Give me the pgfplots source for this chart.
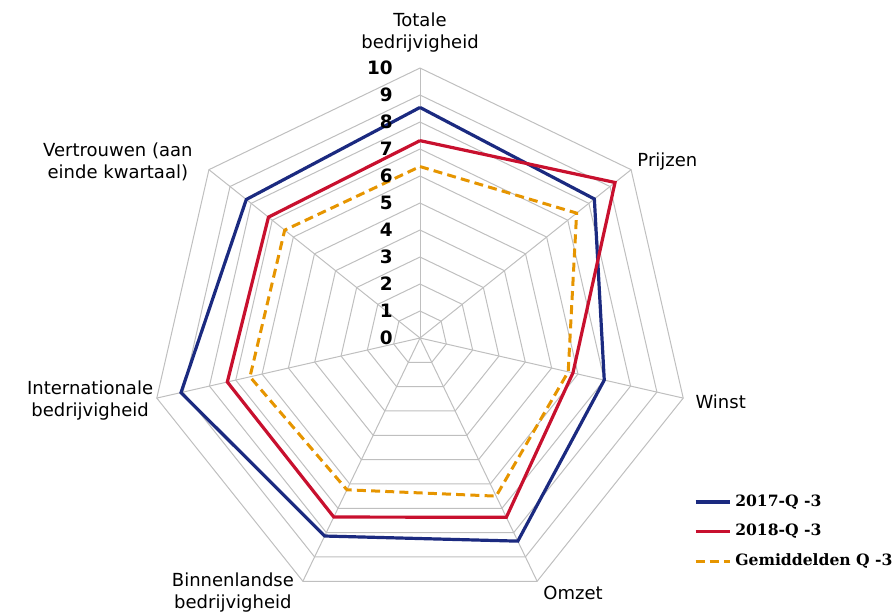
\documentclass[border=0pt]{standalone}
\usepackage{pgfplots}
\pgfplotsset{compat=1.18}
\usepgfplotslibrary{polar}
\usepackage{fontspec}
\setmainfont{DejaVu Sans}
\newfontfamily\legfont{DejaVu Serif}
\definecolor{gridc}{HTML}{BFBFBF}
\definecolor{cblue}{HTML}{1B2A80}
\definecolor{cred}{HTML}{C8102E}
\definecolor{corange}{HTML}{E69500}
\begin{document}
\begin{tikzpicture}
\begin{axis}[
  scale only axis, width=448pt, height=306pt,
  xmin=-15.556, xmax=17.63, ymin=-10.148, ymax=12.519,
  hide axis, clip=false,
  legend style={at={(0.774,0.199)}, anchor=north west, draw=none, fill=none,
    font=\legfont\fontsize{7.8}{9}\selectfont\bfseries, row sep=3.5pt,
    legend cell align=left, inner sep=0pt},
  legend image post style={line width=1.6pt},
]
% grid rings
\pgfplotsinvokeforeach{1,...,10}{
  \addplot[gridc, line width=0.5pt, forget plot, data cs=polar] coordinates
  {(90,#1) (38.5714,#1) (-12.8571,#1) (-64.2857,#1) (-115.7143,#1) (-167.1429,#1) (141.4286,#1) (90,#1)};
}
% spokes
\pgfplotsinvokeforeach{90,38.5714,-12.8571,-64.2857,-115.7143,-167.1429,141.4286}{
  \addplot[gridc, line width=0.5pt, forget plot, data cs=polar] coordinates {(#1,0) (#1,10)};
}
% series: angle, value
\addplot[cblue, line width=1.6pt, data cs=polar] coordinates
  {(90,8.54) (38.5714,8.26) (-12.8571,7.0) (-64.2857,8.35) (-115.7143,8.14) (-167.1429,9.08) (141.4286,8.23) (90,8.54)};
\addlegendentry{2017-Q -3}
\addplot[cred, line width=1.6pt, data cs=polar] coordinates
  {(90,7.31) (38.5714,9.24) (-12.8571,5.81) (-64.2857,7.37) (-115.7143,7.36) (-167.1429,7.32) (141.4286,7.18) (90,7.31)};
\addlegendentry{2018-Q -3}
\addplot[corange, line width=1.5pt, dash pattern=on 4.5pt off 2.6pt, data cs=polar] coordinates
  {(90,6.35) (38.5714,7.42) (-12.8571,5.63) (-64.2857,6.5) (-115.7143,6.24) (-167.1429,6.46) (141.4286,6.41) (90,6.35)};
\addlegendentry{Gemiddelden Q -3}
% scale labels
\pgfplotsinvokeforeach{0,...,10}{
  \node[anchor=east, inner sep=0pt, font=\fontsize{9.2}{10}\selectfont\bfseries] at (axis cs:-1.0,#1) {#1};
}
% category labels
\begin{scope}[font=\fontsize{9}{11}\selectfont, align=center, inner sep=0pt]
\node at (axis cs:0,11.3) {Totale\\bedrijvigheid};
\node[anchor=west] at (axis cs:8.04,6.52) {Prijzen};
\node[anchor=west] at (axis cs:10.19,-2.37) {Winst};
\node at (axis cs:5.67,-9.44) {Omzet};
\node at (axis cs:-6.93,-9.41) {Binnenlandse\\bedrijvigheid};
\node at (axis cs:-12.22,-2.33) {Internationale\\bedrijvigheid};
\node at (axis cs:-11.19,6.52) {Vertrouwen (aan\\einde kwartaal)};
\end{scope}
\end{axis}
\pgfresetboundingbox
\useasboundingbox (current axis.south west) rectangle (current axis.north east);
\end{tikzpicture}
\end{document}
